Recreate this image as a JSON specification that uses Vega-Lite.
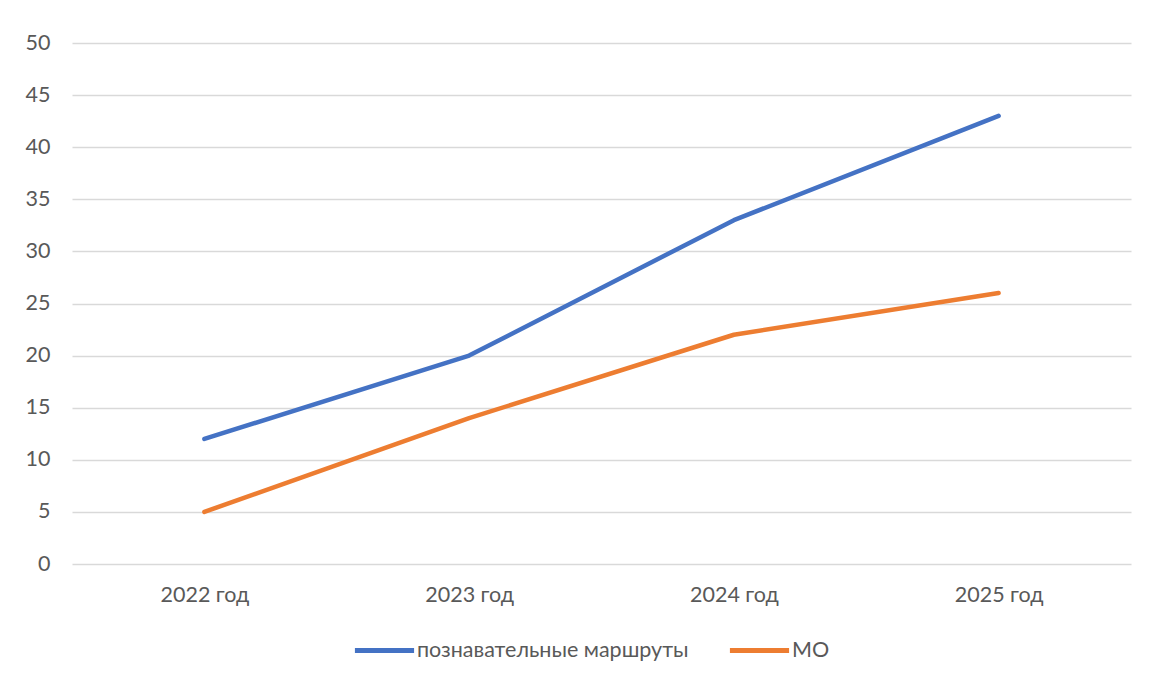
{
  "$schema": "https://vega.github.io/schema/vega-lite/v6.json",
  "width": 1059,
  "height": 521,
  "autosize": {"type": "none"},
  "padding": {"left": 72, "top": 43, "right": 18, "bottom": 113},
  "background": "white",
  "config": {
    "view": {"stroke": null},
    "font": "Lato",
    "axis": {"labelFont": "Lato", "labelFontSize": 21.5, "labelColor": "#595959", "gridColor": "#D9D9D9", "gridWidth": 1.5},
    "legend": {"labelFont": "Lato", "labelFontSize": 21.5, "labelColor": "#595959", "labelLimit": 0}
  },
  "data": {
    "values": [
      {"year": "2022 год", "series": "познавательные маршруты", "value": 12},
      {"year": "2023 год", "series": "познавательные маршруты", "value": 20},
      {"year": "2024 год", "series": "познавательные маршруты", "value": 33},
      {"year": "2025 год", "series": "познавательные маршруты", "value": 43},
      {"year": "2022 год", "series": "МО", "value": 5},
      {"year": "2023 год", "series": "МО", "value": 14},
      {"year": "2024 год", "series": "МО", "value": 22},
      {"year": "2025 год", "series": "МО", "value": 26}
    ]
  },
  "mark": {"type": "line", "strokeWidth": 4.5, "strokeCap": "round", "strokeJoin": "round"},
  "encoding": {
    "x": {
      "field": "year", "type": "ordinal", "title": null,
      "scale": {"type": "point", "padding": 0.5},
      "axis": {"labelAngle": 0, "domain": false, "ticks": false, "grid": false, "labelPadding": 20}
    },
    "y": {
      "field": "value", "type": "quantitative", "title": null,
      "scale": {"domain": [0, 50], "nice": false},
      "axis": {"values": [0, 5, 10, 15, 20, 25, 30, 35, 40, 45, 50], "domain": false, "ticks": false, "labelPadding": 22}
    },
    "color": {
      "field": "series", "type": "nominal", "title": null,
      "scale": {"domain": ["познавательные маршруты", "МО"], "range": ["#4472C4", "#ED7D31"]},
      "legend": {"orient": "none", "legendX": 280, "legendY": 575, "direction": "horizontal", "symbolType": "stroke", "symbolSize": 3500, "symbolStrokeWidth": 5, "labelOffset": 0, "columnPadding": 30, "padding": 0, "labelLimit": 0}
    }
  }
}
